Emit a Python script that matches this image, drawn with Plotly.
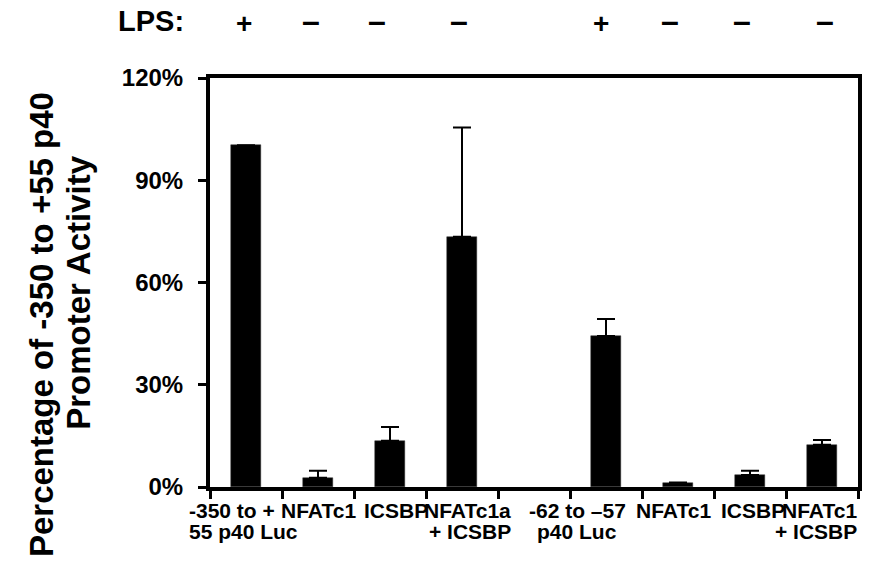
import plotly.graph_objects as go

# ---- data ----
label_line1 = ["-350 to +", "NFATc1", "ICSBP", "NFATc1a", "", "-62 to –57", "NFATc1", "ICSBP", "NFATc1"]
label_line2 = ["55 p40 Luc", "", "", "+ ICSBP", "", "p40 Luc", "", "", "+ ICSBP"]
activity = [100.3, 2.7, 13.6, 73.4, None, 44.3, 1.3, 3.5, 12.4]
err_plus = [0, 2.1, 4.0, 32.1, None, 5.0, 0, 1.3, 1.4]
lps_signs = ["+", "–", "–", "–", "+", "–", "–", "–"]
y_ticks = [0, 30, 60, 90, 120]
y_ticktext = ["0%", "30%", "60%", "90%", "120%"]

# ---- layout geometry (pixels) ----
W, H = 870, 576
L, R, T, B = 210, 8, 78, 89
PW, PH = W - L - R, H - T - B
NCAT = len(activity)

def py2paper(py):
    return (T + PH - py) / PH

def px2paper(px):
    return (px - L) / PW

FONT = "Liberation Sans, Arial, sans-serif"

fig = go.Figure()
fig.add_trace(go.Bar(
    x=list(range(NCAT)), y=activity,
    width=0.43,
    marker=dict(color="black", line=dict(color="#333333", width=0.5)),
    error_y=dict(type="data", array=err_plus, arrayminus=[0] * NCAT,
                 symmetric=False, color="black", thickness=2, width=9),
))

ann = []
# category labels (line positions / alignment per label)
lab_specs = [
    # (line1 px, anchor1, line2 px, anchor2)
    (187, "left", 187, "left"),
    (319, "center", None, None),
    (397, "center", None, None),
    (515, "right", 515, "right"),
    (None, None, None, None),
    (580, "center", 579, "center"),
    (676, "center", None, None),
    (756, "center", None, None),
    (863, "right", 863, "right"),
]
for i, (t1, t2) in enumerate(zip(label_line1, label_line2)):
    p1, a1, p2, a2 = lab_specs[i]
    if t1:
        ann.append(dict(text="<b>%s</b>" % t1, x=px2paper(p1), xref="paper", xanchor=a1,
                        y=py2paper(510), yref="paper", yanchor="middle",
                        showarrow=False, font=dict(size=21, family=FONT, color="black")))
    if t2:
        ann.append(dict(text="<b>%s</b>" % t2, x=px2paper(p2), xref="paper", xanchor=a2,
                        y=py2paper(531), yref="paper", yanchor="middle",
                        showarrow=False, font=dict(size=21, family=FONT, color="black")))

# LPS row
ann.append(dict(text="<b>LPS:</b>", x=px2paper(186), xref="paper", xanchor="right",
                y=py2paper(21), yref="paper", yanchor="middle", showarrow=False,
                font=dict(size=29, family=FONT, color="black")))
lps_px = [244, 312, 378, 461, 603, 673, 745, 829]
for s, p in zip(lps_signs, lps_px):
    is_plus = s == "+"
    ann.append(dict(text="<b>%s</b>" % s, x=px2paper(p), xref="paper", xanchor="center",
                    y=py2paper(24 if is_plus else 21), yref="paper", yanchor="middle",
                    showarrow=False,
                    font=dict(size=28 if is_plus else 32, family=FONT, color="black")))

# y-axis title (two rotated lines)
ann.append(dict(text="<b>Percentage of -350 to +55 p40</b>", textangle=-90,
                x=px2paper(40), xref="paper", xanchor="center",
                y=py2paper(325), yref="paper", yanchor="middle", showarrow=False,
                font=dict(size=33, family=FONT, color="black")))
ann.append(dict(text="<b>Promoter Activity</b>", textangle=-90,
                x=px2paper(77), xref="paper", xanchor="center",
                y=py2paper(293), yref="paper", yanchor="middle", showarrow=False,
                font=dict(size=33, family=FONT, color="black")))

fig.update_layout(
    width=W, height=H,
    margin=dict(l=L, r=R, t=T, b=B, pad=0),
    paper_bgcolor="white", plot_bgcolor="white",
    showlegend=False,
    annotations=ann,
    bargap=0,
    xaxis=dict(range=[-0.5, NCAT - 0.5], tickmode="array",
               tickvals=[i - 0.5 for i in range(NCAT + 1)],
               ticktext=[""] * (NCAT + 1),
               ticks="outside", ticklen=8, tickwidth=3, tickcolor="black",
               showline=True, linewidth=4, linecolor="black", mirror=True,
               showgrid=False, zeroline=False),
    yaxis=dict(range=[0, 120], tickmode="array", tickvals=y_ticks, ticktext=y_ticktext,
               ticks="outside", ticklen=8, tickwidth=3, tickcolor="black",
               ticklabelstandoff=10,
               tickfont=dict(size=24, family=FONT, color="black", weight="bold"),
               showline=True, linewidth=4, linecolor="black", mirror=True,
               showgrid=False, zeroline=False),
)

fig.write_html("out.html")
